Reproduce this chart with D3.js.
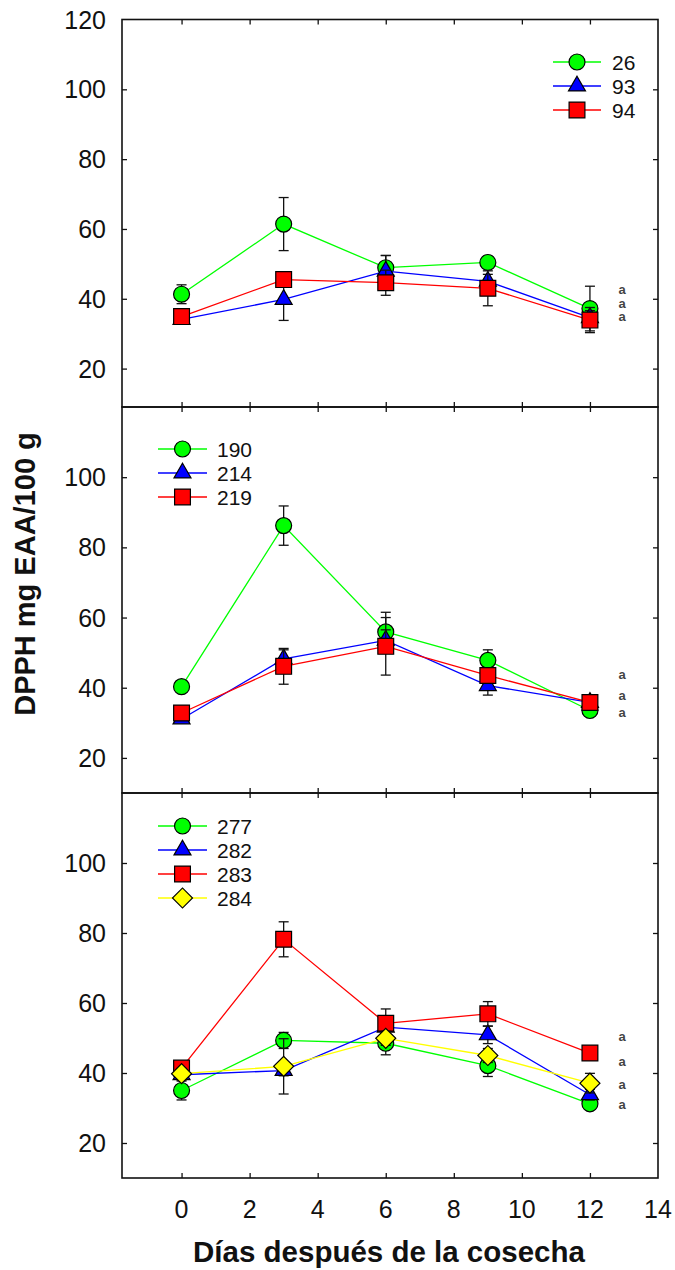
<!DOCTYPE html>
<html>
<head>
<meta charset="utf-8">
<script src="https://cdn.jsdelivr.net/npm/d3@7"></script>
<style>
  body { margin: 0; background: #fff; }
  text { font-family: "Liberation Sans", Arial, sans-serif; }
</style>
</head>
<body>
<div id="chart"></div>
<script>
// data
const days = [0, 3, 6, 9, 12];
const xTicks = [0, 2, 4, 6, 8, 10, 12, 14];
const yTicks = [20, 40, 60, 80, 100, 120];

const p1Names = ["26", "93", "94"];
const p1Values = [
  [41.3, 61.4, 48.9, 50.4, 37.2],
  [34.1, 39.8, 47.9, 45.0, 34.6],
  [34.9, 45.5, 44.6, 43.0, 33.9]
];
const p1Errors = [
  [2.7, 7.6, 3.5, 1.5, 6.4],
  [1.0, 6.0, 4.5, 2.0, 2.0],
  [1.5, 2.0, 3.6, 5.0, 3.6]
];
const p1Letters = [42.5, 38.5, 34.8];

const p2Names = ["190", "214", "219"];
const p2Values = [
  [40.3, 86.2, 55.9, 47.8, 33.5],
  [31.1, 48.2, 53.5, 40.6, 35.8],
  [32.8, 46.1, 51.8, 43.5, 35.8]
];
const p2Errors = [
  [1.5, 5.6, 5.6, 3.0, 1.5],
  [1.0, 2.6, 3.0, 2.7, 1.5],
  [1.5, 5.1, 8.2, 2.0, 1.5]
];
const p2Letters = [43.6, 37.7, 32.8];

const p3Names = ["277", "282", "283", "284"];
const p3Values = [
  [35.0, 49.3, 48.5, 42.1, 31.2],
  [39.5, 40.7, 53.1, 50.9, 33.8],
  [41.4, 78.2, 54.2, 56.9, 45.7],
  [39.8, 41.9, 49.9, 45.0, 37.1]
];
const p3Errors = [
  [2.7, 2.3, 3.3, 3.1, 1.5],
  [1.5, 1.5, 2.0, 2.5, 1.5],
  [1.5, 5.0, 4.1, 3.5, 1.5],
  [1.5, 7.9, 2.0, 2.0, 2.8]
];
const p3Letters = [50.3, 43.1, 36.6, 30.9];

// styles per series position
const colors = ["#00ff00", "#0000ff", "#ff0000", "#ffff00"];
const shapes = [
  { type: d3.symbolCircle, size: 200, rot: 0 },
  { type: d3.symbolTriangle, size: 125, rot: 0 },
  { type: d3.symbolSquare, size: 250, rot: 0 },
  { type: d3.symbolSquare, size: 200, rot: 45 }
];

const width = 675, height = 1270;
const left = 122, right = 658;

const panels = [
  { names: p1Names, values: p1Values, errors: p1Errors, letters: p1Letters,
    top: 19.5, bottom: 407, yMin: 9, labels: [20, 40, 60, 80, 100, 120],
    legend: { x1: 553, x2: 601, tx: 612, y0: 62 } },
  { names: p2Names, values: p2Values, errors: p2Errors, letters: p2Letters,
    top: 407, bottom: 793, yMin: 10, labels: [20, 40, 60, 80, 100],
    legend: { x1: 158, x2: 207, tx: 217, y0: 449 } },
  { names: p3Names, values: p3Values, errors: p3Errors, letters: p3Letters,
    top: 793, bottom: 1178, yMin: 10, labels: [20, 40, 60, 80, 100],
    legend: { x1: 158, x2: 207, tx: 217, y0: 826 } }
];

const svg = d3.select('#chart')
  .append('svg')
  .attr('width', width)
  .attr('height', height);

let x = d3.scaleLinear()
  .domain([-1.75, 14])
  .range([left, right]);

panels.forEach(function(p) {
  let y = d3.scaleLinear()
    .domain([p.yMin, 120])
    .range([p.bottom, p.top]);

  let g = svg.append('g');

  // y ticks left and right, inward
  g.append('g')
    .attr('transform', 'translate(' + left + ',0)')
    .call(d3.axisRight(y).tickValues(yTicks.filter(v => v < 120)).tickSize(5).tickFormat(''))
    .call(a => a.select('.domain').remove());
  g.append('g')
    .attr('transform', 'translate(' + right + ',0)')
    .call(d3.axisLeft(y).tickValues(yTicks.filter(v => v < 120)).tickSize(5).tickFormat(''))
    .call(a => a.select('.domain').remove());

  // x ticks top and bottom, inward
  g.append('g')
    .attr('transform', 'translate(0,' + p.bottom + ')')
    .call(d3.axisTop(x).tickValues(xTicks.filter(v => v < 14)).tickSize(5).tickFormat(''))
    .call(a => a.select('.domain').remove());
  g.append('g')
    .attr('transform', 'translate(0,' + p.top + ')')
    .call(d3.axisBottom(x).tickValues(xTicks.filter(v => v < 14)).tickSize(5).tickFormat(''))
    .call(a => a.select('.domain').remove());

  g.selectAll('.tick line').attr('stroke', '#111').attr('stroke-width', 1.3);

  // y tick labels
  g.selectAll('text.ylab')
    .data(p.labels)
    .enter().append('text')
    .attr('class', 'ylab')
    .attr('x', left - 16)
    .attr('y', d => y(d))
    .attr('dy', '0.36em')
    .attr('text-anchor', 'end')
    .attr('font-size', 25)
    .attr('fill', '#111')
    .text(d => d);

  // series
  p.values.forEach(function(vals, si) {
    let pts = vals.map((v, i) => ({ day: days[i], v: v, e: p.errors[si][i] }));

    g.append('path')
      .datum(pts)
      .attr('fill', 'none')
      .attr('stroke', colors[si])
      .attr('stroke-width', 1.3)
      .attr('d', d3.line().x(d => x(d.day)).y(d => y(d.v)));

    let eb = g.append('g').attr('stroke', '#111').attr('stroke-width', 1.3);
    pts.forEach(function(d) {
      let cx = x(d.day);
      eb.append('line').attr('x1', cx).attr('x2', cx).attr('y1', y(d.v - d.e)).attr('y2', y(d.v + d.e));
      eb.append('line').attr('x1', cx - 5).attr('x2', cx + 5).attr('y1', y(d.v - d.e)).attr('y2', y(d.v - d.e));
      eb.append('line').attr('x1', cx - 5).attr('x2', cx + 5).attr('y1', y(d.v + d.e)).attr('y2', y(d.v + d.e));
    });

    let sym = d3.symbol().type(shapes[si].type).size(shapes[si].size);
    g.selectAll('path.m' + si)
      .data(pts)
      .enter().append('path')
      .attr('class', 'm' + si)
      .attr('d', sym)
      .attr('transform', d => 'translate(' + x(d.day) + ',' + y(d.v) + ') rotate(' + shapes[si].rot + ')')
      .attr('fill', colors[si])
      .attr('stroke', '#000')
      .attr('stroke-width', 1.2);
  });

  // letters
  g.selectAll('text.let')
    .data(p.letters)
    .enter().append('text')
    .attr('class', 'let')
    .attr('x', 622)
    .attr('y', d => y(d))
    .attr('dy', '0.3em')
    .attr('text-anchor', 'middle')
    .attr('font-size', 13)
    .attr('font-weight', 'bold')
    .attr('fill', '#444')
    .text('a');

  // legend
  let L = p.legend;
  p.names.forEach(function(name, si) {
    let ly = L.y0 + si * 24;
    g.append('line')
      .attr('x1', L.x1).attr('x2', L.x2)
      .attr('y1', ly).attr('y2', ly)
      .attr('stroke', colors[si]).attr('stroke-width', 1.5);
    g.append('path')
      .attr('d', d3.symbol().type(shapes[si].type).size(shapes[si].size))
      .attr('transform', 'translate(' + ((L.x1 + L.x2) / 2) + ',' + ly + ') rotate(' + shapes[si].rot + ')')
      .attr('fill', colors[si])
      .attr('stroke', '#000')
      .attr('stroke-width', 1.2);
    g.append('text')
      .attr('x', L.tx)
      .attr('y', ly)
      .attr('dy', '0.36em')
      .attr('font-size', 21)
      .attr('fill', '#111')
      .text(name);
  });

  // frame
  g.append('rect')
    .attr('x', left).attr('y', p.top)
    .attr('width', right - left).attr('height', p.bottom - p.top)
    .attr('fill', 'none')
    .attr('stroke', '#111')
    .attr('stroke-width', 1.6);
});

// x tick labels
svg.selectAll('text.xlab')
  .data(xTicks)
  .enter().append('text')
  .attr('class', 'xlab')
  .attr('x', d => x(d))
  .attr('y', 1209)
  .attr('dy', '0.36em')
  .attr('text-anchor', 'middle')
  .attr('font-size', 25)
  .attr('fill', '#111')
  .text(d => d);

// axis titles
svg.append('text')
  .attr('x', 389)
  .attr('y', 1262)
  .attr('text-anchor', 'middle')
  .attr('font-size', 29.5)
  .attr('font-weight', 'bold')
  .attr('fill', '#111')
  .text('Días después de la cosecha');

svg.append('text')
  .attr('transform', 'translate(25,574) rotate(-90)')
  .attr('dy', '0.36em')
  .attr('text-anchor', 'middle')
  .attr('font-size', 29)
  .attr('font-weight', 'bold')
  .attr('fill', '#111')
  .text('DPPH mg EAA/100 g');
</script>
</body>
</html>
